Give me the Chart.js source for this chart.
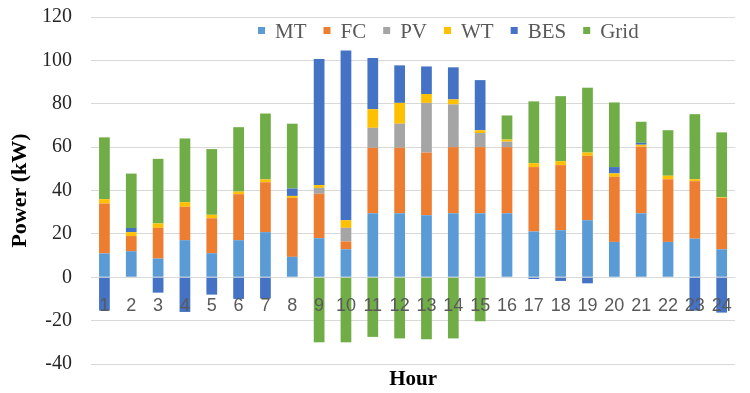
<!DOCTYPE html>
<html>
<head>
<meta charset="utf-8">
<script src="https://cdn.jsdelivr.net/npm/chart.js@4.4.0/dist/chart.umd.min.js"></script>
<style>
	html, body { margin: 0; padding: 0; background: #fff; }
	#wrap { width: 750px; height: 393px; }
</style>
</head>
<body>
<div id="wrap"><canvas id="power-hour"></canvas></div>
<script>
var hours = ["1", "2", "3", "4", "5", "6", "7", "8", "9", "10", "11", "12",
	"13", "14", "15", "16", "17", "18", "19", "20", "21", "22", "23", "24"];

var mt   = [11, 12, 8.6, 17.1, 11.1, 17.1, 20.8, 9.4, 18, 12.9, 29.5, 29.5,
	28.6, 29.5, 29.5, 29.5, 21.1, 21.7, 26.3, 16.3, 29.5, 16.3, 17.8, 12.9];
var fc   = [23, 7, 14.2, 15.4, 16.1, 21.2, 23, 27.2, 20.5, 3.6, 30.2, 30.2,
	28.9, 30.5, 30.5, 30.5, 29.7, 30, 29.7, 30, 30.7, 28.9, 26.5, 23.7];
var pv   = [0, 0, 0, 0, 0, 0, 0, 0, 2.7, 6.3, 9.2, 11.1,
	22.9, 19.7, 6.5, 2.5, 0, 0, 0, 0, 0, 0, 0, 0];
var wt   = [2, 1.8, 2, 2.1, 1.6, 1.2, 1.3, 0.9, 1.3, 3.5, 8.6, 9.6,
	4.1, 2.3, 1.3, 1, 1.8, 1.8, 1.5, 1.6, 0.9, 1.6, 0.9, 0.3];
var bes  = [-15.4, 1.9, -7.1, -16, -8, -10, -9.8, 3.4, 58.1, 78.2, 23.6, 17.3,
	12.7, 14.8, 23.1, 0, -0.8, -1.7, -2.8, 2.9, 0.9, 0, -15.4, -16.3];
var grid = [28.5, 25.1, 29.8, 29.4, 30.3, 29.7, 30.4, 29.9, -30, -30, -27.5, -28.2,
	-28.6, -28.2, -20.3, 11.1, 28.5, 30, 29.9, 29.8, 9.7, 21, 30, 29.9];

var series_names  = ["MT", "FC", "PV", "WT", "BES", "Grid"];
var series_colors = ["#5B9BD5", "#ED7D31", "#A5A5A5", "#FFC000", "#4472C4", "#70AD47"];
var series_data   = [mt, fc, pv, wt, bes, grid];

var datasets = [];
for (var i = 0; i < series_names.length; i++) {
	datasets.push({
		label: series_names[i],
		data: series_data[i],
		backgroundColor: series_colors[i],
		borderWidth: 0,
		barPercentage: 0.4,
		categoryPercentage: 1.0,
		stack: "power"
	});
}

// legend sits inside the plot, under the 120 line, like the excel original
var inner_legend = {
	id: "innerLegend",
	afterDraw: function(chart) {
		var ctx = chart.ctx;
		var x = 258;
		var y = 31;
		ctx.save();
		ctx.font = "21px 'Liberation Serif', 'Times New Roman', serif";
		ctx.textBaseline = "middle";
		ctx.textAlign = "left";
		chart.data.datasets.forEach(function(ds) {
			ctx.fillStyle = ds.backgroundColor;
			ctx.fillRect(x, y - 4, 7, 7);
			x += 17;
			ctx.fillStyle = "#595959";
			ctx.fillText(ds.label, x, y + 1);
			x += ctx.measureText(ds.label).width + 17;
		});
		ctx.restore();
	}
};

var power_hour = document.getElementById("power-hour");
var power_chart = new Chart(power_hour, {
	type: 'bar',
	data: {
		labels: hours,
		datasets: datasets
	},
	plugins: [inner_legend],
	options: {
		responsive: true,
		maintainAspectRatio: false,
		animation: false,
		layout: {
			padding: { left: 0, right: 0, top: 17, bottom: 0 }
		},
		plugins: {
			legend: { display: false },
			tooltip: { enabled: false }
		},
		scales: {
			x: {
				position: { y: 0 },
				stacked: true,
				grid: { display: false, drawTicks: false },
				border: { display: false },
				ticks: {
					z: 1,
					autoSkip: false,
					maxRotation: 0,
					padding: 18,
					color: "#595959",
					font: { family: "'Liberation Sans', Arial, sans-serif", size: 18 }
				},
				afterFit: function(scale) { scale.height = 0; }
			},
			xt: {
				type: 'category',
				position: 'bottom',
				grid: { display: false, drawTicks: false },
				border: { display: false },
				ticks: { display: false },
				title: {
					display: true,
					text: "Hour",
					color: "#000",
					padding: { top: 0, bottom: 1 },
					font: { family: "'Liberation Serif', 'Times New Roman', serif", size: 21, weight: 'bold' }
				},
				afterFit: function(scale) { scale.height = 29; }
			},
			y: {
				stacked: true,
				min: -40,
				max: 120,
				grid: {
					color: "#d9d9d9",
					lineWidth: 1,
					drawTicks: true,
					tickLength: 19,
					tickColor: "rgba(0,0,0,0)"
				},
				border: { display: false },
				ticks: {
					stepSize: 20,
					padding: 0,
					color: "#262626",
					font: { family: "'Liberation Serif', 'Times New Roman', serif", size: 20 }
				},
				title: {
					display: true,
					text: "Power (kW)",
					color: "#000",
					padding: { top: 7, bottom: 0 },
					font: { family: "'Liberation Serif', 'Times New Roman', serif", size: 22, weight: 'bold' }
				},
				afterFit: function(scale) { scale.width = 91; }
			}
		}
	}
});
</script>
</body>
</html>
